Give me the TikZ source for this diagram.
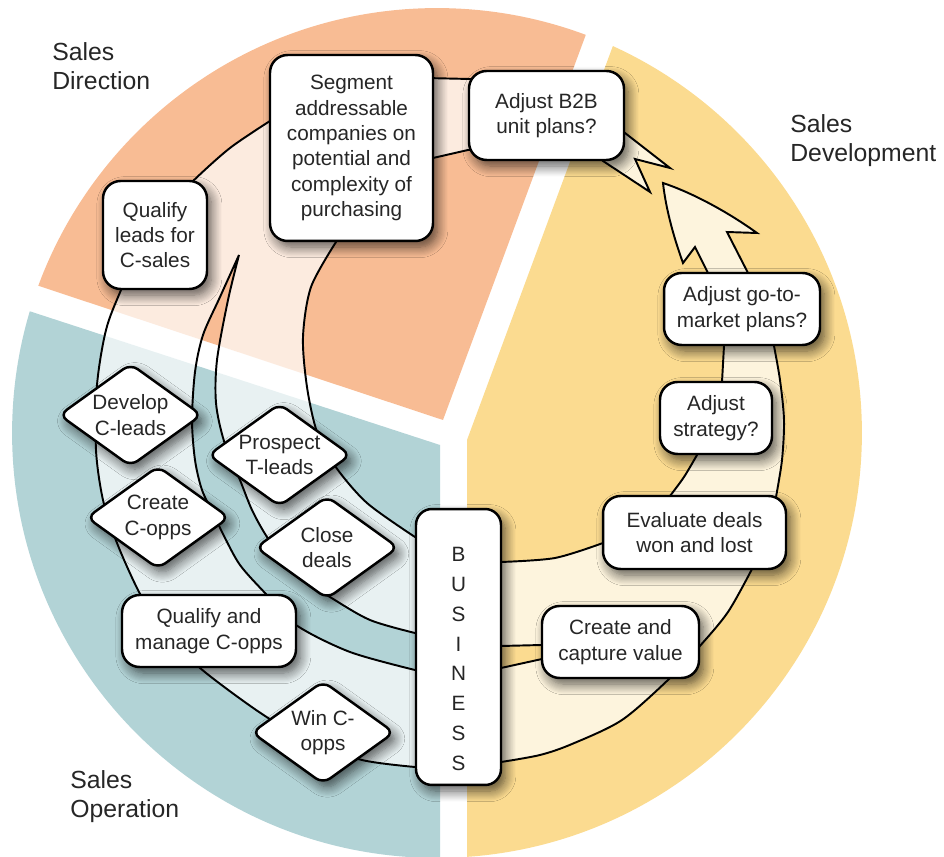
\documentclass[tikz,border=0pt]{standalone}
\usepackage{fontspec}
\setmainfont{Liberation Sans}
\usetikzlibrary{shadows.blur}
\definecolor{salmon}{RGB}{248,188,148}
\definecolor{tealc}{RGB}{178,211,214}
\definecolor{yell}{RGB}{251,219,144}
\definecolor{txtc}{RGB}{38,38,38}
\newcommand\mydiam[4]{%
  \path[dshape] (#1,#2) +(-71,0) -- +(0,-51) -- +(71,0) -- +(0,51) -- cycle;
  \node[txt] (#3) at (#1,#2) {#4};}
\begin{document}
\begin{tikzpicture}[x=0.02cm,y=-0.02cm,
  shad/.style={blur shadow={shadow xshift=2.5pt, shadow yshift=-3.5pt, shadow blur radius=6pt, shadow blur steps=10, shadow opacity=65}},
  txt/.style={align=center, inner sep=0pt, text=txtc, font=\fontsize{11.8}{14.4}\selectfont},
  box/.style={txt, draw=black, line width=1.4pt, fill=white, rounded corners=10pt, shad},
  dshape/.style={draw=black, line width=1.4pt, fill=white, rounded corners=5pt, shad},
  bandfill/.style={fill=white, fill opacity=0.7, draw=black, line width=1.1pt},
  lbl/.style={align=left, inner sep=0pt, anchor=west, text=txtc, font=\fontsize{14.1}{16.5}\selectfont}]
\useasboundingbox (0,0) rectangle (944,857);
% sectors
\begin{scope}
\clip (437,433) circle[radius=8.5cm];
\fill[salmon] (443,420) -- (-359,154) -- (-359,-400) -- (747,-400) -- cycle;
\fill[tealc] (440,445) -- (-376,179) -- (-376,900) -- (440,900) -- cycle;
\fill[yell] (467,440) -- (467,900) -- (900,900) -- (900,-400) -- (778,-400) -- cycle;
\end{scope}
% left bands
\path[bandfill] (425,767)
 -- plot[smooth] coordinates {(415,767) (362,760) (310,741) (262,714) (200,668) (160,627) (138,590) (117,543) (103,500) (96,450) (97,385) (106,330) (121,290) (150,225) (192,182) (230,148) (270,121)}
 -- (300,130) -- (336,230)
 -- plot[smooth] coordinates {(336,242) (311,287) (303,337) (307,387) (317,432) (335,466) (367,503) (415,537)}
 -- (425,537) -- (425,633)
 -- plot[smooth] coordinates {(415,633) (370,620) (330,597) (292,572) (267,537) (252,510) (240,480) (224,441) (216,403) (217,360) (228,300) (239,255)}
 -- plot[smooth] coordinates {(239,255) (220,297) (203,335) (195,372) (192,420) (195,460) (202,490) (214,515) (224,536) (240,565) (265,593) (296,625) (350,652) (415,670)}
 -- (425,670) -- cycle;
% right band
\path[bandfill] (495,762)
 -- plot[smooth] coordinates {(501,762) (540,755) (572,744) (622,720) (669,679) (699,647) (728,612) (752,569)}
 -- (776,497)
 -- plot[smooth] coordinates {(776,497) (782,460) (784,420) (780,380) (774,346)}
 -- (748,273)
 -- (727,232) -- (757,233)
 .. controls (725,210) and (690,192) .. (663,183)
 .. controls (666,210) and (674,238) .. (683,263)
 -- (695,247) -- (708,273) -- (724,346)
 -- (722,382) -- (697,455)
 -- plot[smooth] coordinates {(697,455) (684,477) (670,496)}
 -- (603,543)
 -- plot[smooth] coordinates {(603,543) (555,558) (501,562)}
 -- (495,562) -- (495,646) -- (501,646) -- (542,645) -- (560,652) -- (542,659) -- (501,668) -- (495,668) -- cycle;
% top bands
\path[bandfill] (425,78) -- (470,79) -- (478,79) -- (478,150) -- (468,150) -- (433,158) -- (425,158) -- cycle;
\path[bandfill] (612,145) -- (625,133) -- (670,168) -- (635,159) -- (650,192) -- (603,161) -- cycle;
% labels
\node[lbl] (sd) at (52,66.5) {Sales\\Direction};
\node[lbl] (sdev) at (790,141) {Sales\\Development};
\node[lbl] (sop) at (70,796.5) {Sales\\Operation};
% boxes
\node[box, minimum width=3.26cm, minimum height=3.72cm] (seg) at (351.5,148) {Segment\\addressable\\companies on\\potential and\\complexity of\\purchasing};
\node[box, minimum width=3.1cm, minimum height=1.78cm] (b2b) at (546.5,115.5) {Adjust B2B\\unit plans?};
\node[box, minimum width=2.08cm, minimum height=2.16cm] (qlead) at (155,235) {Qualify\\leads for\\C-sales};
\node[box, minimum width=3.12cm, minimum height=1.44cm] (gtm) at (742,309) {Adjust go-to-\\market plans?};
\node[box, minimum width=2.24cm, minimum height=1.44cm] (strat) at (716,418) {Adjust\\strategy?};
\node[box, minimum width=3.66cm, minimum height=1.46cm] (eval) at (694.5,532.5) {Evaluate deals\\won and lost};
\node[box, minimum width=3.14cm, minimum height=1.44cm] (cap) at (620.5,642) {Create and\\capture value};
\node[box, minimum width=3.48cm, minimum height=1.44cm] (qman) at (209,631) {Qualify and\\manage C-opps};
\node[box, minimum width=1.7cm, minimum height=5.52cm, rounded corners=9pt] (bus) at (458.5,647) {};
\node[txt, font=\fontsize{11.8}{17}\selectfont] (bustext) at (458.5,659) {B\\U\\S\\I\\N\\E\\S\\S};
% diamonds
\mydiam{130.5}{415}{dev}{Develop\\C-leads}
\mydiam{158}{517.5}{copp}{Create\\C-opps}
\mydiam{279.5}{455}{pros}{Prospect\\T-leads}
\mydiam{327}{547.5}{close}{Close\\deals}
\mydiam{323}{732.5}{win}{Win C-\\opps}
\end{tikzpicture}
\end{document}
